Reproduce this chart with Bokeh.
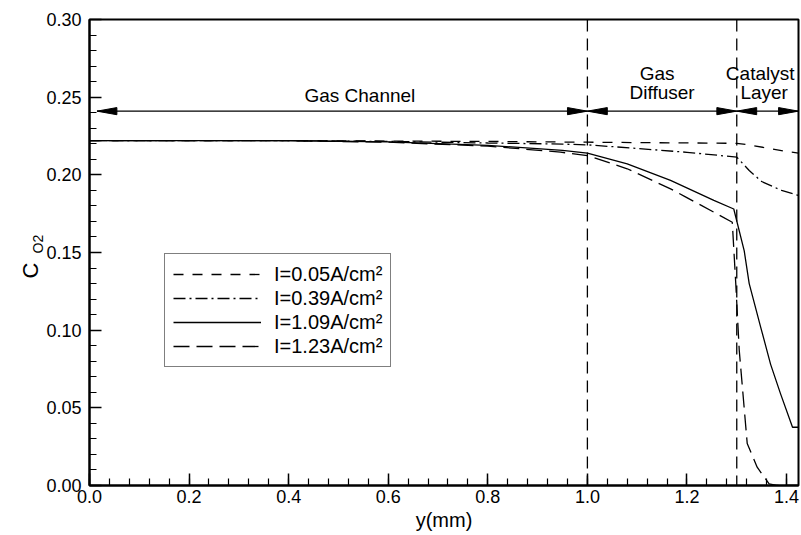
from bokeh.plotting import figure
from bokeh.models import (ColumnDataSource, Label, Span, Title, FixedTicker,
                          PrintfTickFormatter)
from bokeh.embed import file_html
from bokeh.resources import INLINE

# ---------------- data ----------------
x_005 = [0.0, 0.4, 0.8, 1.0, 1.3, 1.33, 1.4, 1.424]
c_005 = [0.222, 0.222, 0.2215, 0.221, 0.2203, 0.219, 0.215, 0.214]

x_039 = [0.0, 0.4, 0.6, 0.8, 0.95, 1.0, 1.1, 1.2, 1.3, 1.325, 1.35, 1.39, 1.424]
c_039 = [0.222, 0.222, 0.2215, 0.2205, 0.2198, 0.2193, 0.217, 0.2145, 0.2114,
         0.2028, 0.1957, 0.190, 0.1867]

x_109 = [0.0, 0.4, 0.6, 0.8, 0.95, 1.0, 1.08, 1.167, 1.254, 1.294, 1.315, 1.325,
         1.348, 1.368, 1.388, 1.412, 1.424]
c_109 = [0.222, 0.222, 0.2212, 0.219, 0.2157, 0.214, 0.2071, 0.1964, 0.1835,
         0.178, 0.151, 0.130, 0.102, 0.078, 0.059, 0.0375, 0.0375]

x_123 = [0.0, 0.4, 0.6, 0.8, 0.946, 1.0, 1.08, 1.167, 1.196, 1.291, 1.298,
         1.305, 1.321, 1.341, 1.365, 1.38, 1.424]
c_123 = [0.222, 0.222, 0.2210, 0.2185, 0.2146, 0.2124, 0.2039, 0.191, 0.186,
         0.1695, 0.130, 0.087, 0.027, 0.0118, 0.001, 0.0, 0.0]

series_labels = ["I=0.05A/cm²", "I=0.39A/cm²", "I=1.09A/cm²", "I=1.23A/cm²"]

x_ticks = [0.0, 0.2, 0.4, 0.6, 0.8, 1.0, 1.2, 1.4]
y_ticks = [0.0, 0.05, 0.10, 0.15, 0.20, 0.25, 0.30]
x_minor = [round(i * 0.04, 2) for i in range(36)]
y_minor = [round(i * 0.01, 2) for i in range(31)]

region_bounds = [0.015, 1.0, 1.3, 1.424]
region_names = [["Gas Channel"], ["Gas", "Diffuser"], ["Catalyst", "Layer"]]
arrow_level = 0.241

# ---------------- figure ----------------
FONT = "Liberation Sans"
X0, X1 = 0.0, 1.424
Y0, Y1 = 0.0, 0.30

p = figure(width=801, height=535, x_range=(X0, X1), y_range=(Y0, Y1 + 1e-9),
           output_backend="svg", toolbar_location=None,
           min_border_left=89, min_border_right=3, min_border_top=19,
           min_border_bottom=50)
p.grid.visible = False
p.outline_line_color = "black"
p.outline_line_width = 2
p.background_fill_color = "white"
p.border_fill_color = "white"

for ax in (p.xaxis[0], p.yaxis[0]):
    ax.axis_line_width = 2
    ax.axis_line_color = "black"
    ax.major_tick_in = 12
    ax.major_tick_out = 0
    ax.minor_tick_in = 7
    ax.minor_tick_out = 0
    ax.major_tick_line_width = 1.5
    ax.minor_tick_line_width = 1.2
    ax.major_label_text_font = FONT
    ax.major_label_text_font_size = "18px"
    ax.major_label_text_color = "black"
    ax.axis_label_text_font = FONT
    ax.axis_label_text_font_style = "normal"
    ax.axis_label_text_font_size = "20px"
    ax.axis_label_text_color = "black"

p.xaxis.ticker = FixedTicker(ticks=x_ticks, minor_ticks=x_minor)
p.yaxis.ticker = FixedTicker(ticks=y_ticks, minor_ticks=y_minor)
p.xaxis.formatter = PrintfTickFormatter(format="%.1f")
p.yaxis.formatter = PrintfTickFormatter(format="%.2f")
p.xaxis.major_label_standoff = 4
p.yaxis.major_label_standoff = 8
p.xaxis.axis_label = "y(mm)"
p.xaxis.axis_label_standoff = 3

# ---------------- curves ----------------
styles = [
    dict(line_dash="10 9"),
    dict(line_dash="12 4 2 4"),
    dict(line_dash="solid"),
    dict(line_dash="16 7"),
]
for xs, cs, lab, st in zip([x_005, x_039, x_109, x_123],
                           [c_005, c_039, c_109, c_123],
                           series_labels, styles):
    src = ColumnDataSource(dict(x=xs, y=cs))
    p.line("x", "y", source=src, line_color="black", line_width=1.3,
           legend_label=lab, **st)

# ---------------- region boundaries ----------------
for b in region_bounds[1:3]:
    p.add_layout(Span(location=b, dimension="height", line_color="black",
                      line_width=1.3, line_dash="12 7"))

head_len = 0.040
head_half = 0.0023
shaft_x, shaft_y = [], []
hx, hy = [], []
for a, b in zip(region_bounds[:-1], region_bounds[1:]):
    shaft_x.append([a, b])
    shaft_y.append([arrow_level, arrow_level])
    hx.append([a, a + head_len, a + head_len])
    hy.append([arrow_level, arrow_level + head_half, arrow_level - head_half])
    hx.append([b, b - head_len, b - head_len])
    hy.append([arrow_level, arrow_level + head_half, arrow_level - head_half])
p.multi_line(shaft_x, shaft_y, line_color="black", line_width=1.3)
p.patches(hx, hy, fill_color="black", line_color="black", line_width=1)

label_pos = [
    [(0.543, 0.251)],
    [(1.140, 0.265), (1.150, 0.253)],
    [(1.347, 0.265), (1.355, 0.253)],
]
for names, poss in zip(region_names, label_pos):
    for txt, (lx, ly) in zip(names, poss):
        p.add_layout(Label(x=lx, y=ly, text=txt, text_font=FONT,
                           text_font_size="19px", text_align="center",
                           text_baseline="middle", text_color="black"))

# ---------------- y axis label C_O2 (as side titles) ----------------
t_sub = Title(text="O2", align="left", offset=232, standoff=-5,
              text_font=FONT, text_font_size="14px",
              text_font_style="normal", text_color="black")
t_main = Title(text="C", align="left", offset=207, standoff=-24,
               text_font=FONT, text_font_size="22px",
               text_font_style="normal", text_color="black")
p.add_layout(t_sub, "left")
p.add_layout(t_main, "left")

# ---------------- legend ----------------
lg = p.legend[0]
lg.location = (75, 118)
lg.border_line_color = "black"
lg.border_line_width = 1.3
lg.background_fill_color = "white"
lg.background_fill_alpha = 1.0
lg.padding = 8
lg.margin = 0
lg.spacing = 0
lg.label_height = 24
lg.glyph_height = 24
lg.glyph_width = 88
lg.label_standoff = 13
lg.label_text_font = FONT
lg.label_text_font_size = "20px"
lg.label_text_color = "black"

open("out.html", "w").write(file_html(p, INLINE))
